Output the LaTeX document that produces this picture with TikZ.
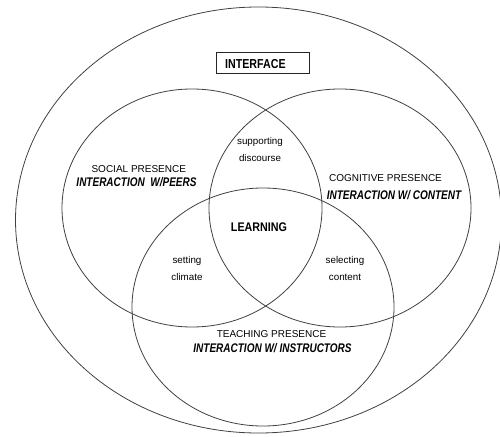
\documentclass[tikz,border=0pt]{standalone}
\usepackage{fontspec}
\setmainfont{Liberation Sans}
% narrow a piece of text horizontally
\newcommand\hsquash[2]{\scalebox{#1}[1]{#2}}
\begin{document}
\begin{tikzpicture}[x=1pt,y=-1pt,
  ring/.style={draw=black!75, line width=0.8pt},
  caption/.style={font=\fontsize{10}{12}\selectfont, inner sep=0pt, anchor=base},
  mode/.style={font=\fontsize{12.5}{14}\selectfont\bfseries\itshape, inner sep=0pt, anchor=base},
  overlap/.style={font=\fontsize{9.8}{17}\selectfont, align=center, inner sep=0pt},
  heading/.style={font=\fontsize{13}{15}\selectfont\bfseries, inner sep=0pt}]
\useasboundingbox (0,0) rectangle (500,436);

% interface (outer ellipse)
\draw[ring] (258.5,220) ellipse [x radius=243pt, y radius=213pt];
% social, cognitive and teaching presence
\draw[ring] (192,208) ellipse [x radius=130pt, y radius=119pt];
\draw[ring] (340,208) ellipse [x radius=131pt, y radius=119pt];
\draw[ring] (263,307) ellipse [x radius=131pt, y radius=119pt];

% interface label
\node[draw=black!85, line width=0.9pt, minimum width=93pt, minimum height=21pt,
      inner sep=0pt] (iface) at (262.5,62.5) {};
\node[heading, anchor=west] (ifacetext) at (225,64.2) {\hsquash{0.82}{INTERFACE}};

% presences
\node[caption] (social) at (138.8,172.3) {SOCIAL PRESENCE};
\node[mode] (peers) at (136.5,186.9) {\hsquash{0.8}{INTERACTION\ \ W/PEERS}};

\node[caption] (cognitive) at (385.5,181.8) {COGNITIVE PRESENCE};
\node[mode] (content) at (394,199.3) {\hsquash{0.8}{INTERACTION W/ CONTENT}};

\node[caption] (teaching) at (271.5,337.3) {TEACHING PRESENCE};
\node[mode] (instructors) at (272.5,352.7) {\hsquash{0.8}{INTERACTION W/ INSTRUCTORS}};

% overlaps
\node[overlap] (discourse) at (260,149.5) {supporting\\discourse};
\node[overlap] (climate) at (187,268.5) {setting\\climate};
\node[overlap] (selecting) at (345,268.5) {selecting\\content};

\node[heading, font=\fontsize{12.5}{15}\selectfont\bfseries] (learning) at (259,227.3) {\hsquash{0.86}{LEARNING}};
\end{tikzpicture}
\end{document}
